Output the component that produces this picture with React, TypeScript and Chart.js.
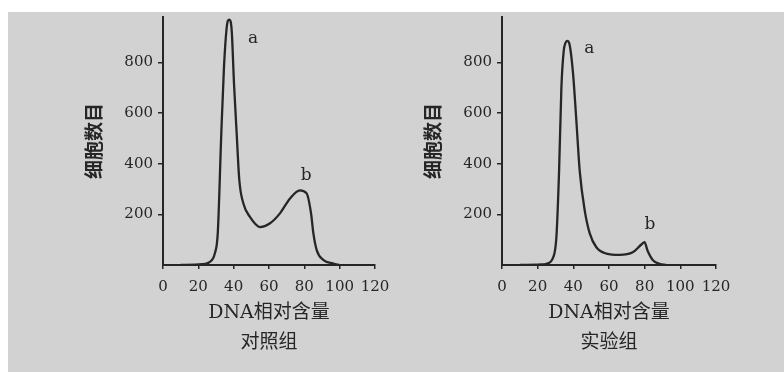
import React, { useEffect, useRef } from "react";
import { Chart, registerables } from "chart.js";
Chart.register(...registerables);

// ---- data ----
const xTicks = [0, 20, 40, 60, 80, 100, 120];
const yTicks = [200, 400, 600, 800];
const yMax = 980;
const yTitle = "细胞数目";
const xTitle = "DNA相对含量";

const controlName = "对照组";
const controlX = [10, 22, 26, 29.4, 31, 33, 34.5, 36, 36.8, 37.6, 38.9, 40.2, 41.7, 43.2, 45.5, 49.2, 54.9, 60.6, 66.2, 71.9, 77.5, 81.3, 83.8, 85.1, 87, 90.7, 96.4, 100];
const controlY = [0, 3, 10, 47, 126, 520, 780, 935, 966, 970, 925, 715, 520, 335, 243, 190, 150, 165, 204, 263, 295, 283, 204, 126, 59, 20, 6, 0];
const controlLabels = ["a", "b"];
const controlLabelX = [51, 81];
const controlLabelY = [894, 355];

const expName = "实验组";
const expX = [10, 22, 25, 28.7, 30.5, 32, 33.3, 34.6, 35.6, 36.6, 37.8, 39.8, 41.7, 43.6, 46.4, 49.2, 52.9, 58.5, 65.9, 73.3, 78, 79.9, 81.7, 84.5, 88.3, 92];
const expY = [0, 2, 5, 30, 110, 370, 700, 845, 878, 886, 874, 760, 570, 370, 215, 125, 70, 45, 40, 50, 80, 90, 55, 20, 5, 0];
const expLabels = ["a", "b"];
const expLabelX = [49, 83];
const expLabelY = [856, 158];

const INK = "#262626";
const BG = "#d2d2d2";

function makeChart(
  canvas: HTMLCanvasElement,
  xs: number[],
  ys: number[],
  name: string,
  labels: string[],
  lx: number[],
  ly: number[]
) {
  const labelPlugin = {
    id: "peakLabels",
    afterDatasetsDraw(chart: any) {
      const ctx = chart.ctx;
      const xs2 = chart.scales.x;
      const ys2 = chart.scales.y;
      ctx.save();
      ctx.fillStyle = INK;
      ctx.font = '17px "DejaVu Serif"';
      ctx.textAlign = "center";
      ctx.textBaseline = "middle";
      labels.forEach((t, i) => {
        ctx.fillText(t, xs2.getPixelForValue(lx[i]), ys2.getPixelForValue(ly[i]));
      });
      ctx.restore();
    },
  };
  return new Chart(canvas, {
    type: "line",
    data: {
      datasets: [
        {
          data: xs.map((x, i) => ({ x, y: ys[i] })),
          borderColor: INK,
          borderWidth: 2.3,
          pointRadius: 0,
          fill: false,
          cubicInterpolationMode: "monotone",
        },
      ],
    },
    options: {
      responsive: false,
      animation: false,
      layout: { padding: { top: 5, right: 17, bottom: 0, left: 0 } },
      plugins: { legend: { display: false }, tooltip: { enabled: false } },
      scales: {
        x: {
          type: "linear",
          min: 0,
          max: 120,
          afterBuildTicks: (s: any) => {
            s.ticks = xTicks.map((v) => ({ value: v }));
          },
          afterFit: (s: any) => {
            s.height = 107;
            s.paddingLeft = 0;
            s.paddingRight = 0;
          },
          ticks: {
            autoSkip: false,
            maxRotation: 0,
            padding: 9,
            color: INK,
            font: { family: '"DejaVu Serif"', size: 15 },
          },
          grid: { drawOnChartArea: false, drawTicks: true, tickLength: 4, color: INK, lineWidth: 1.5 },
          border: { display: true, color: INK, width: 2 },
          title: {
            display: true,
            text: [xTitle, name],
            color: INK,
            font: { family: '"DejaVu Serif", "Noto Sans CJK SC"', size: 19, lineHeight: 1.58 },
            padding: { top: 0, bottom: 14 },
          },
        },
        y: {
          type: "linear",
          min: 0,
          max: yMax,
          afterBuildTicks: (s: any) => {
            s.ticks = yTicks.map((v) => ({ value: v }));
          },
          afterFit: (s: any) => {
            s.width = 155;
            s.paddingTop = 0;
            s.paddingBottom = 0;
          },
          ticks: {
            padding: 5,
            color: INK,
            font: { family: '"DejaVu Serif"', size: 15 },
          },
          grid: { drawOnChartArea: false, drawTicks: true, tickLength: 5, color: INK, lineWidth: 1.5 },
          border: { display: true, color: INK, width: 2 },
          title: {
            display: true,
            text: yTitle,
            color: INK,
            font: { family: '"Noto Sans CJK SC"', size: 19, weight: "bold", lineHeight: 1.2 },
            padding: { top: 74, bottom: 0 },
          },
        },
      },
    },
    plugins: [labelPlugin],
  } as any);
}

export default function App() {
  const leftRef = useRef<HTMLCanvasElement>(null);
  const rightRef = useRef<HTMLCanvasElement>(null);
  useEffect(() => {
    const a = makeChart(leftRef.current!, controlX, controlY, controlName, controlLabels, controlLabelX, controlLabelY);
    const b = makeChart(rightRef.current!, expX, expY, expName, expLabels, expLabelX, expLabelY);
    return () => {
      a.destroy();
      b.destroy();
    };
  }, []);
  return (
    <div style={{ position: "absolute", left: 8, top: 12, width: 776, height: 360, background: BG, overflow: "hidden" }}>
      <canvas ref={leftRef} width={384} height={360} style={{ position: "absolute", left: 0, top: 0, width: 384, height: 360 }} />
      <canvas ref={rightRef} width={386} height={360} style={{ position: "absolute", left: 339, top: 0, width: 386, height: 360 }} />
    </div>
  );
}
